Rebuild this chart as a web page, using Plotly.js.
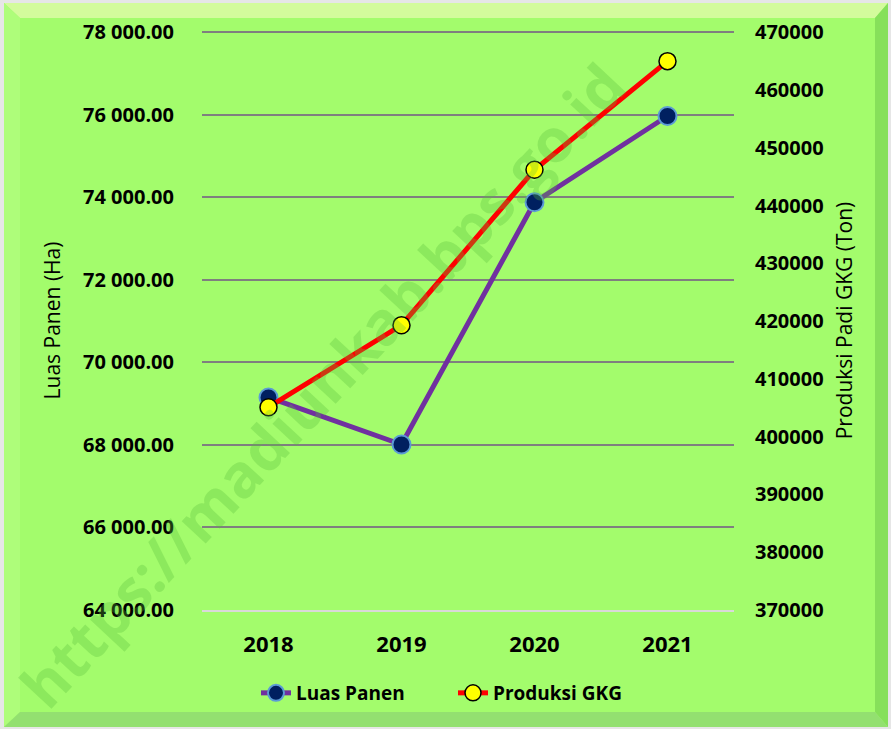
<!DOCTYPE html>
<html><head><meta charset="utf-8">
<script src="https://cdn.plot.ly/plotly-3.0.1.min.js"></script>
<style>body{margin:0;padding:0;}#chart{width:891px;height:729px;}</style>
</head><body><div id="chart"></div>
<script>
const years = ['2018', '2019', '2020', '2021'];
const luasPanen = [69150, 68010, 73880, 75970];
const produksiGKG = [405100, 419300, 446200, 465000];
const leftTicks = [64000, 66000, 68000, 70000, 72000, 74000, 76000, 78000];
const rightTicks = [370000, 380000, 390000, 400000, 410000, 420000, 430000, 440000, 450000, 460000, 470000];

const W = 891, H = 729, ML = 202, MR = 157, MT = 31, MB = 119;
const PW = W - ML - MR, PH = H - MT - MB;
const px = x => (x - ML) / PW;
const py = y => (H - MB - y) / PH;

function rectPx(x0, y0, x1, y1, fill) {
  return {type: 'rect', xref: 'paper', yref: 'paper', x0: px(x0), x1: px(x1), y0: py(y1), y1: py(y0),
    fillcolor: fill, line: {width: 0}, layer: 'below'};
}
function pathPx(pts, fill) {
  let d = pts.map((p, i) => (i ? 'L' : 'M') + px(p[0]) + ',' + py(p[1])).join(' ') + ' Z';
  return {type: 'path', xref: 'paper', yref: 'paper', path: d, fillcolor: fill, line: {width: 0}, layer: 'below'};
}

const shapes = [
  rectPx(0, 0, W, H, '#e6e6e6'),
  rectPx(4, 3, 888, 727, '#a3fc6c'),
  pathPx([[4, 3], [888, 3], [875, 18], [20, 18]], '#d3fb9c'),
  pathPx([[4, 3], [20, 18], [20, 712], [4, 727]], '#aefd7a'),
  pathPx([[888, 3], [888, 727], [875, 712], [875, 18]], '#86e05a'),
  pathPx([[4, 727], [888, 727], [875, 712], [20, 712]], '#93e070')
];

const traces = [
  {x: years, y: luasPanen, name: 'Luas Panen', type: 'scatter', mode: 'lines+markers', yaxis: 'y',
   line: {color: '#7030a0', width: 5},
   marker: {color: '#002060', size: 18, line: {color: '#5b9bd5', width: 2}}},
  {x: years, y: produksiGKG, name: 'Produksi GKG', type: 'scatter', mode: 'lines+markers', yaxis: 'y2',
   line: {color: '#ff0000', width: 5},
   marker: {color: '#ffff00', size: 17, line: {color: '#000000', width: 1.5}}}
];

const FAM = 'Open Sans, Liberation Sans, sans-serif';
const yTickFont = {family: FAM, size: 20, color: '#000', weight: 'bold'};
const xTickFont = {family: FAM, size: 22, color: '#000', weight: 'bold'};

const layout = {
  width: W, height: H,
  margin: {l: ML, r: MR, t: MT, b: MB, pad: 0},
  paper_bgcolor: '#a3fc6c',
  plot_bgcolor: 'rgba(0,0,0,0)',
  separators: '. ',
  showlegend: true,
  legend: {orientation: 'h', x: px(453), xanchor: 'center', y: py(693), yanchor: 'middle',
    font: {family: FAM, size: 19, color: '#000', weight: 'bold'},
    bgcolor: 'rgba(0,0,0,0)', entrywidth: 152},
  xaxis: {type: 'category', range: [-0.5, 3.5], showgrid: false, zeroline: false,
    showline: true, linecolor: '#d9d9d9', linewidth: 2, ticks: '', ticklabelstandoff: 14,
    tickfont: xTickFont},
  yaxis: {range: [64000, 78030], tickvals: leftTicks, tickformat: ',.2f', showgrid: true,
    gridcolor: '#7f7f7f', gridwidth: 2, zeroline: false, showline: false, ticks: '',
    ticklabelstandoff: 27, tickfont: yTickFont,
    title: {text: 'Luas Panen (Ha)', standoff: 16,
      font: {family: FAM, size: 21, color: '#000'}}},
  yaxis2: {range: [370000, 370000 + 14030 / 14000 * 100000], tickvals: rightTicks, tickformat: 'd',
    overlaying: 'y', side: 'right',
    showgrid: false, zeroline: false, showline: false, ticks: '', ticklabelstandoff: 20, tickfont: yTickFont,
    title: {text: 'Produksi Padi GKG (Ton)', standoff: 14,
      font: {family: FAM, size: 21, color: '#000'}}},
  shapes: shapes,
  annotations: [{text: 'https://madiunkab.bps.go.id', xref: 'paper', yref: 'paper',
    x: px(322), y: py(385), xanchor: 'center', yanchor: 'middle', showarrow: false, textangle: -47,
    font: {family: FAM, size: 60, color: 'rgba(90,190,60,0.3)', weight: 'bold'}}]
};

Plotly.newPlot('chart', traces, layout, {displayModeBar: false});
</script></body></html>
